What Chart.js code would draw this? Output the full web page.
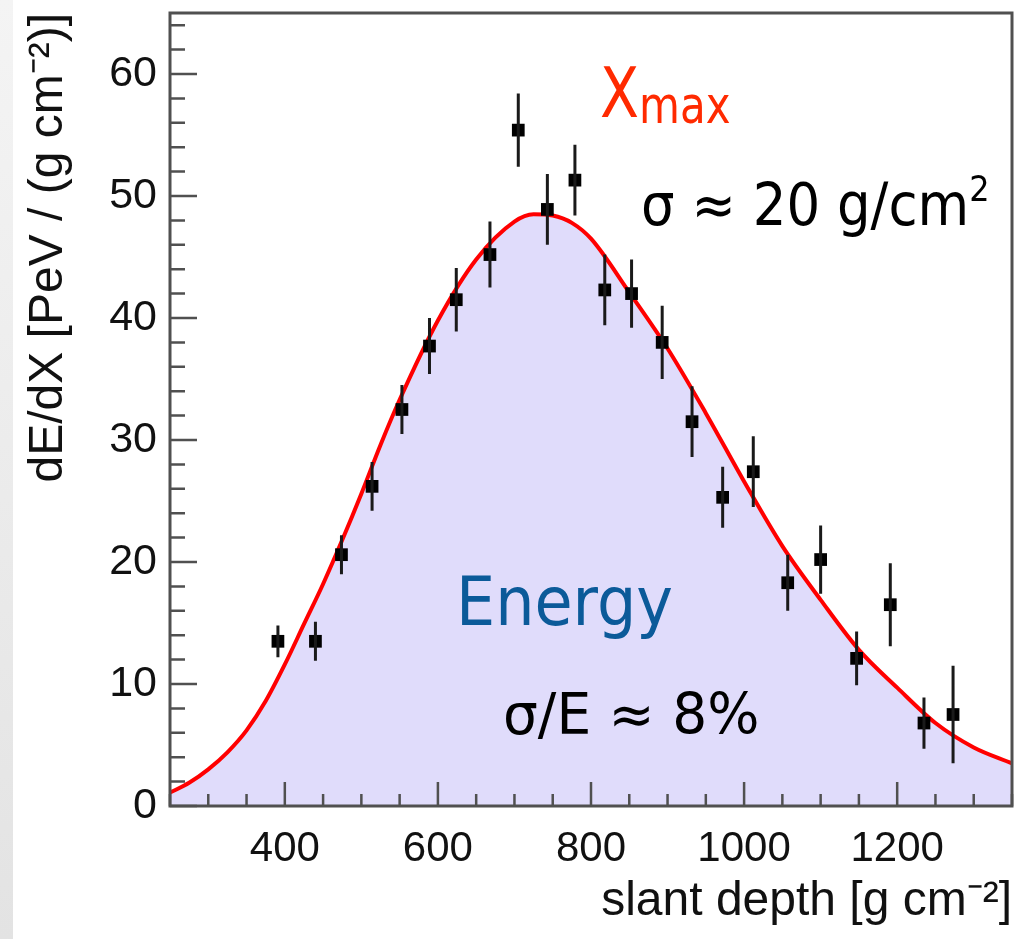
<!DOCTYPE html>
<html>
<head>
<meta charset="utf-8">
<title>dE/dX vs slant depth</title>
<script src="https://cdn.jsdelivr.net/npm/chart.js@4.4.1/dist/chart.umd.min.js"></script>
<style>
  body { margin: 0; background: #fff; }
  #wrap { position: relative; width: 1017px; height: 939px; overflow: hidden; background: #fff; }
  #strip { position: absolute; left: 0; top: 0; width: 13px; height: 939px;
           background: linear-gradient(#f4f4f4, #e3e3e3); }
  #chart { position: absolute; left: 0; top: 0; }
  .note { position: absolute; white-space: nowrap; font-family: 'DejaVu Sans', Verdana, sans-serif; line-height: 1; }
</style>
</head>
<body>
<div id="wrap">
  <div id="strip"></div>
  <canvas id="chart" width="1017" height="939"></canvas>
</div>
<script>
const depth = [391, 440, 474, 514, 553, 589, 624, 668, 705, 743, 779, 818, 853, 893, 932, 972, 1012, 1057, 1100, 1147, 1191, 1235, 1273];
const dEdX = [13.5, 13.5, 20.6, 26.2, 32.5, 37.7, 41.5, 45.2, 55.4, 48.9, 51.3, 42.3, 42.0, 38.0, 31.5, 25.3, 27.4, 18.3, 20.2, 12.1, 16.5, 6.8, 7.5];
const dEdXErr = [1.3, 1.6, 1.6, 2.0, 2.0, 2.3, 2.6, 2.7, 3.0, 2.9, 2.9, 2.9, 2.8, 3.0, 2.9, 2.5, 2.9, 2.3, 2.8, 2.2, 3.4, 2.1, 4.0];

// fitted curve, sampled off the red line
const fitDepth = [250, 275, 300, 325, 350, 375, 400, 425, 450, 475, 500, 525, 550, 600, 650, 700, 725, 750, 775, 800, 850, 900, 950, 1000, 1050, 1100, 1150, 1200, 1250, 1300, 1350];
const fitValue = [1.1, 1.9, 3.0, 4.4, 6.2, 8.6, 11.6, 14.9, 18.2, 21.8, 25.6, 29.6, 33.3, 39.8, 44.8, 47.9, 48.5, 48.4, 47.8, 46.5, 42.1, 37.5, 32.2, 26.6, 21.3, 16.9, 12.8, 9.7, 6.8, 4.8, 3.5];

// axes
const xRange = [250, 1350];
const yRange = [0, 65];
const xTickLabels = [400, 600, 800, 1000, 1200];
const yTickLabels = [0, 10, 20, 30, 40, 50, 60];
const xMinorStep = 50;
const yMinorStep = 2;

const axisFont = "'Liberation Sans', Arial, Helvetica, sans-serif";
const frameColor = '#505050';

// ROOT style frame with inward ticks
const frameTicks = {
  id: 'frameTicks',
  afterDatasetsDraw(chart) {
    const { ctx, chartArea: a, scales: { x, y } } = chart;
    ctx.save();
    ctx.strokeStyle = frameColor;
    ctx.lineWidth = 2.5;
    ctx.beginPath();
    for (let v = xRange[0]; v <= xRange[1]; v += xMinorStep) {
      const px = x.getPixelForValue(v);
      const len = xTickLabels.includes(v) ? 24 : 12;
      ctx.moveTo(px, a.bottom);
      ctx.lineTo(px, a.bottom - len);
    }
    for (let v = yRange[0]; v <= yRange[1]; v += yMinorStep) {
      const py = y.getPixelForValue(v);
      const len = yTickLabels.includes(v) ? 27 : 15;
      ctx.moveTo(a.left, py);
      ctx.lineTo(a.left + len, py);
    }
    ctx.stroke();
    ctx.lineWidth = 3;
    ctx.strokeRect(a.left, a.top, a.right - a.left, a.bottom - a.top);
    ctx.restore();
  }
};

// vertical error bars on the measured points
const errorBars = {
  id: 'errorBars',
  afterDatasetsDraw(chart) {
    const { ctx, scales: { x, y } } = chart;
    ctx.save();
    ctx.strokeStyle = '#1a1a1a';
    ctx.lineWidth = 3;
    ctx.beginPath();
    depth.forEach((d, i) => {
      const px = x.getPixelForValue(d);
      ctx.moveTo(px, y.getPixelForValue(dEdX[i] - dEdXErr[i]));
      ctx.lineTo(px, y.getPixelForValue(dEdX[i] + dEdXErr[i]));
    });
    ctx.stroke();
    ctx.restore();
  }
};

const chart = new Chart(document.getElementById('chart'), {
  type: 'line',
  data: {
    datasets: [
      {
        label: 'fit',
        data: fitDepth.map((d, i) => ({ x: d, y: fitValue[i] })),
        borderColor: '#ff0000',
        borderWidth: 4,
        backgroundColor: '#e0dcfb',
        fill: 'origin',
        pointRadius: 0,
        cubicInterpolationMode: 'monotone',
        order: 2
      },
      {
        label: 'data',
        data: depth.map((d, i) => ({ x: d, y: dEdX[i] })),
        showLine: false,
        pointStyle: 'rect',
        pointRadius: 9,
        pointBackgroundColor: '#000',
        pointBorderColor: '#000',
        pointBorderWidth: 0,
        order: 1
      }
    ]
  },
  options: {
    responsive: false,
    animation: false,
    devicePixelRatio: 1,
    layout: { autoPadding: false, padding: { top: 13, right: 5, left: 0, bottom: 0 } },
    plugins: { legend: { display: false }, tooltip: { enabled: false } },
    scales: {
      x: {
        type: 'linear',
        min: xRange[0],
        max: xRange[1],
        grid: { display: false, drawTicks: false },
        border: { display: false },
        afterBuildTicks: s => { s.ticks = xTickLabels.map(v => ({ value: v })); },
        afterFit: s => { s.height = 133; s.paddingLeft = 0; s.paddingRight = 0; },
        ticks: {
          padding: 18,
          color: '#111',
          maxRotation: 0,
          autoSkip: false,
          callback: v => String(v),
          font: { family: axisFont, size: 42 }
        },
        title: {
          display: true,
          text: 'slant depth [g cm⁻²]',
          align: 'end',
          color: '#111',
          padding: { top: 0, bottom: 8 },
          font: { family: axisFont, size: 48 }
        }
      },
      y: {
        min: yRange[0],
        max: yRange[1],
        grid: { display: false, drawTicks: false },
        border: { display: false },
        afterBuildTicks: s => { s.ticks = yTickLabels.map(v => ({ value: v })); },
        afterFit: s => { s.width = 170; s.paddingTop = 0; s.paddingBottom = 0; },
        ticks: {
          padding: 13,
          color: '#111',
          autoSkip: false,
          callback: v => String(v),
          font: { family: axisFont, size: 43 }
        },
        title: {
          display: true,
          text: 'dE/dX [PeV / (g cm⁻²)]',
          align: 'end',
          color: '#111',
          padding: { top: 20, bottom: 0 },
          font: { family: axisFont, size: 48 }
        }
      }
    }
  },
  plugins: [frameTicks, errorBars]
});

// annotations as html text, placed by baseline
function addNote(html, left, baseline, size, color, stretch) {
  const el = document.createElement('div');
  el.className = 'note';
  el.innerHTML = html;
  el.style.left = left + 'px';
  el.style.top = (baseline - 0.846 * size) + 'px';
  el.style.fontSize = size + 'px';
  el.style.color = color;
  el.style.transformOrigin = '0 ' + (0.846 * size) + 'px';
  el.style.transform = 'scaleY(' + stretch + ')';
  document.getElementById('wrap').appendChild(el);
}

addNote('X<span style="font-size:42px;position:relative;top:5px">max</span>', 600, 117, 57, '#ff2a00', 1.22);
addNote('σ ≈ 20 g/cm<span style="font-size:32px;position:relative;top:-22px">2</span>', 641, 225, 53, '#000', 1.1);
addNote('Energy', 456, 625, 62, '#0b5a99', 1.1);
addNote('σ/E ≈ 8%', 503, 735, 55, '#000', 1.03);
</script>
</body>
</html>
